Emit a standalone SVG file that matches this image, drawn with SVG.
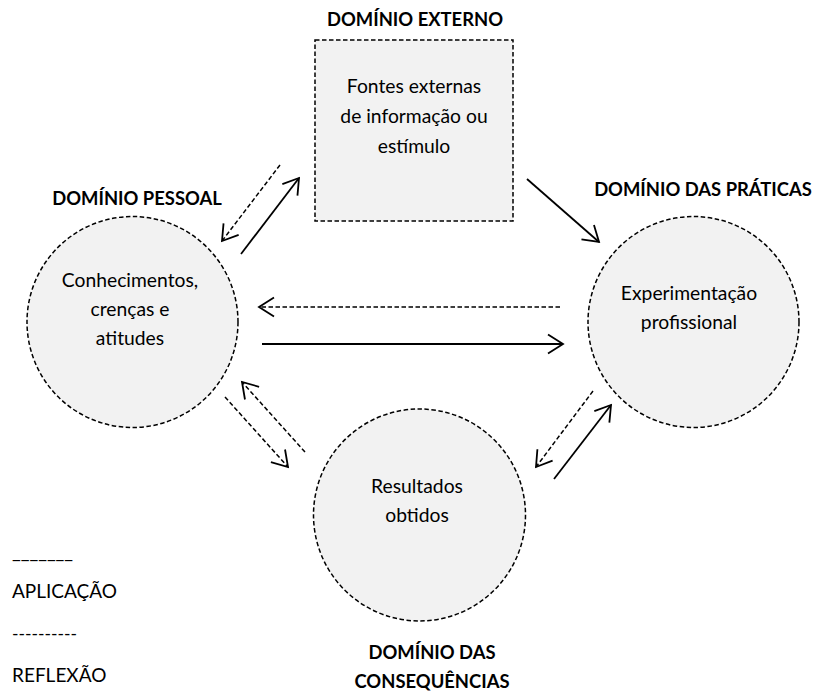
<svg xmlns="http://www.w3.org/2000/svg" width="817" height="693" viewBox="0 0 817 693">
<style>
  .node { fill: #f2f2f2; stroke: #000; stroke-width: 1.5; stroke-dasharray: 4.5 2.5; }
  .t { font-family: Lato, "Open Sans", "Liberation Sans", sans-serif; font-size: 19.3px; fill: #000; text-anchor: middle; }
  .b { font-weight: bold; font-size: 18.4px; }
  .l { font-family: Lato, "Open Sans", "Liberation Sans", sans-serif; font-size: 19px; fill: #000; }
  .solid { fill: none; stroke: #000; stroke-width: 1.8; marker-end: url(#arr); }
  .dash { fill: none; stroke: #000; stroke-width: 1.5; stroke-dasharray: 4.5 2.5; marker-end: url(#arr); }
</style>
<defs>
  <marker id="arr" markerUnits="userSpaceOnUse" markerWidth="24" markerHeight="24" refX="0" refY="0" viewBox="-20 -12 24 24" orient="auto" overflow="visible">
    <path d="M -15 -9.5 L 0 0 L -15 9.5" fill="none" stroke="#000" stroke-width="1.8" stroke-linejoin="miter"/>
  </marker>
</defs>
<rect width="817" height="693" fill="#fff"/>

<g id="externo">
  <text class="t b" x="415" y="26">DOMÍNIO EXTERNO</text>
  <rect class="node" x="315" y="40" width="198" height="181"/>
  <text class="t" x="414" y="93">Fontes externas</text>
  <text class="t" x="414" y="123">de informação ou</text>
  <text class="t" x="414" y="153">estímulo</text>
</g>

<g id="pessoal">
  <text class="t b" x="137" y="205">DOMÍNIO PESSOAL</text>
  <circle class="node" cx="132.5" cy="322" r="105.5"/>
  <text class="t" x="130" y="287">Conhecimentos,</text>
  <text class="t" x="130" y="316">crenças e</text>
  <text class="t" x="130" y="345">atitudes</text>
</g>

<g id="praticas">
  <text class="t b" x="703" y="196">DOMÍNIO DAS PRÁTICAS</text>
  <circle class="node" cx="693.5" cy="322" r="105.5"/>
  <text class="t" x="689" y="300">Experimentação</text>
  <text class="t" x="689" y="329">profissional</text>
</g>

<g id="consequencias">
  <circle class="node" cx="419.5" cy="515" r="106"/>
  <text class="t" x="417" y="493">Resultados</text>
  <text class="t" x="417" y="522">obtidos</text>
  <text class="t b" x="432" y="659">DOMÍNIO DAS</text>
  <text class="t b" x="432" y="688">CONSEQUÊNCIAS</text>
</g>

<g id="legenda">
  <text class="l" x="12" y="558">_______</text>
  <text class="l" x="12" y="598">APLICAÇÃO</text>
  <text class="l" x="12" y="640" style="font-size:17.5px">----------</text>
  <text class="l" x="12" y="682">REFLEXÃO</text>
</g>

<g id="connectors">
  <line class="dash" x1="280" y1="165" x2="222" y2="241"/>
  <line class="solid" x1="241" y1="254" x2="299" y2="178"/>
  <line class="solid" x1="527" y1="179" x2="599" y2="242"/>
  <line class="dash" x1="560" y1="307" x2="259" y2="307"/>
  <line class="solid" x1="262" y1="344" x2="563" y2="344"/>
  <line class="dash" x1="305" y1="452" x2="242" y2="382"/>
  <line class="dash" x1="225" y1="397" x2="288" y2="467"/>
  <line class="dash" x1="593" y1="391" x2="536" y2="467"/>
  <line class="solid" x1="554" y1="479" x2="611" y2="405"/>
</g>
</svg>
